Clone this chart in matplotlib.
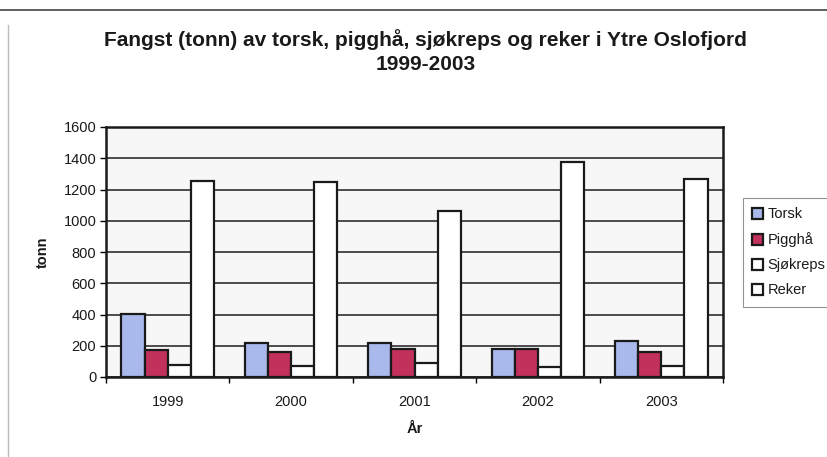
import matplotlib
matplotlib.use("Agg")
import matplotlib.pyplot as plt
from matplotlib.lines import Line2D
import numpy as np

plt.rcParams['font.family'] = ['Liberation Sans', 'DejaVu Sans']

years = ["1999", "2000", "2001", "2002", "2003"]
series_names = ["Torsk", "Pigghå", "Sjøkreps", "Reker"]
torsk = [405, 220, 215, 180, 230]
pigghaa = [170, 160, 180, 180, 160]
sjokreps = [75, 70, 90, 65, 70]
reker = [1255, 1245, 1065, 1375, 1265]
yticks = [0, 200, 400, 600, 800, 1000, 1200, 1400, 1600]

colors = ["#a9b9ec", "#c2305c", "#ffffff", "#ffffff"]
values = [torsk, pigghaa, sjokreps, reker]

W, H = 827, 457
fig = plt.figure(figsize=(W / 100, H / 100), dpi=100)
fig.patch.set_facecolor("white")

ax = fig.add_axes([106 / W, 1 - 377 / H, (723 - 106) / W, (377 - 127) / H])
ax.set_facecolor("#f7f7f7")

x = np.arange(len(years))
bw = 0.1875
for i, (name, vals, col) in enumerate(zip(series_names, values, colors)):
    ax.bar(x + (i - 1.5) * bw, vals, width=bw, color=col, edgecolor="#1a1a1a",
           linewidth=1.6, label=name, zorder=3)

ax.set_xlim(-0.5, len(years) - 0.5)
ax.set_ylim(0, 1600)
ax.set_yticks(yticks)
ax.set_yticklabels([str(v) for v in yticks], fontsize=10.5, color="#1a1a1a")
ax.set_xticks(x)
ax.set_xticklabels(years, fontsize=10.5, color="#1a1a1a")
ax.set_xticks(np.arange(len(years) + 1) - 0.5, minor=True)
ax.tick_params(axis="x", which="major", length=0, pad=13)
ax.tick_params(axis="x", which="minor", length=4, width=1, direction="out")
ax.tick_params(axis="y", length=4, width=1, direction="out", pad=3)

ax.yaxis.grid(True, color="#2e2e2e", linewidth=1.2, zorder=1)
ax.set_axisbelow(True)
for s in ax.spines.values():
    s.set_linewidth(1.8)
    s.set_color("#1a1a1a")

ax.set_ylabel("tonn", fontsize=10.5, fontweight="bold", labelpad=10, color="#1a1a1a")
ax.set_xlabel("År", fontsize=10.5, fontweight="bold", labelpad=9, color="#1a1a1a")

fig.text(425 / W, 1 - 40 / H, "Fangst (tonn) av torsk, pigghå, sjøkreps og reker i Ytre Oslofjord",
         ha="center", va="center", fontsize=15, fontweight="bold", color="#1a1a1a")
fig.text(426 / W, 1 - 65 / H, "1999-2003", ha="center", va="center",
         fontsize=15, fontweight="bold", color="#1a1a1a")

leg = fig.legend(loc="upper left", bbox_to_anchor=(743 / W, 1 - 198 / H),
                 fontsize=10.5, frameon=True, fancybox=False, handlelength=0.75,
                 handleheight=0.75, handletextpad=0.3, labelspacing=0.75,
                 borderpad=0.65, borderaxespad=0)
leg.get_frame().set_edgecolor("#777777")
leg.get_frame().set_linewidth(0.8)
for t in leg.get_texts():
    t.set_color("#1a1a1a")

fig.add_artist(Line2D([0, 1], [1 - 10 / H, 1 - 10 / H], color="#444444", linewidth=1.2))
fig.add_artist(Line2D([8 / W, 8 / W], [0, 1 - 25 / H], color="#bbbbbb", linewidth=1.0))

fig.savefig("out.png", dpi=100)
